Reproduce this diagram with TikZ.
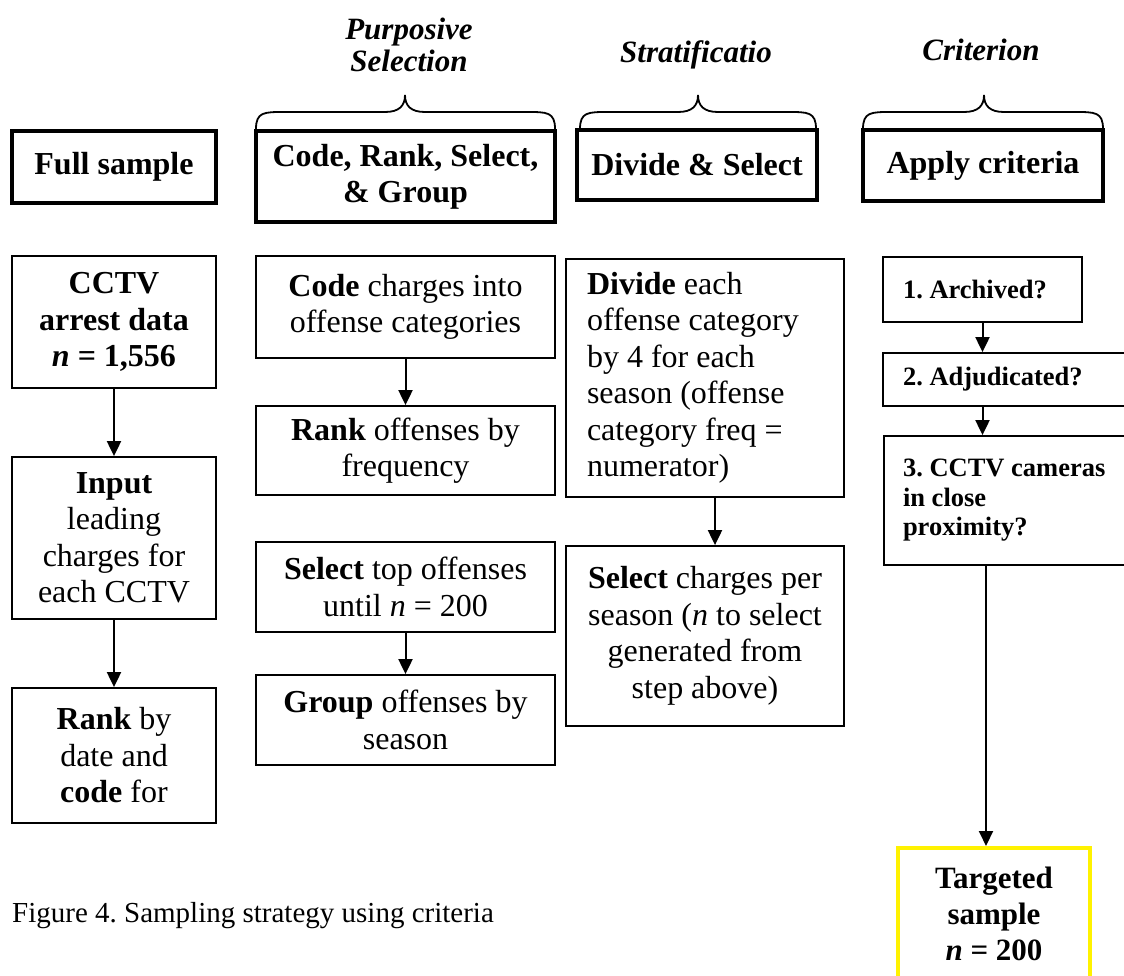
\documentclass[tikz,border=0pt]{standalone}
\usepackage{fontspec}
\setmainfont{Liberation Serif}
\usetikzlibrary{arrows.meta,calc}

\tikzset{
  headbox/.style={draw, line width=3.6pt, inner sep=0pt, align=center,
    font=\fontsize{32}{36}\selectfont\bfseries},
  stepbox/.style={draw, line width=1.8pt, inner sep=0pt, align=center,
    font=\fontsize{32}{36.5}\selectfont},
  leftbox/.style={stepbox, align=flush left},
  critbox/.style={draw, line width=1.8pt, inner sep=0pt, align=flush left,
    font=\fontsize{26.5}{29.5}\selectfont\bfseries},
  goalbox/.style={draw=yellow, line width=4pt, inner sep=0pt, align=center,
    font=\fontsize{31}{36}\selectfont\bfseries},
  phase/.style={font=\fontsize{31}{32}\selectfont\bfseries\itshape, align=center, inner sep=0pt},
  caption/.style={font=\fontsize{29}{32}\selectfont, inner sep=0pt},
  brace/.style={line width=1.8pt},
  arr/.style={line width=2pt, -{Triangle[length=15pt,width=14pt]}},
}

% curly brace over a column: left end, tip, right end, bottom y
\newcommand{\colbrace}[4]{%
  \draw[brace] (#1,#4) .. controls (#1,112) and (#1+8,112) .. (#1+28,112)
    -- (#2-20,112) .. controls (#2-6,112) and (#2,106) .. (#2,95)
    .. controls (#2,106) and (#2+6,112) .. (#2+20,112)
    -- (#3-28,112) .. controls (#3-8,112) and (#3,112) .. (#3,#4);}

\begin{document}
\frenchspacing
\begin{tikzpicture}[x=1pt,y=-1pt]
\useasboundingbox[fill=white] (0,0) rectangle (1124,976);
\clip (0,0) rectangle (1124,976);

% phase titles and braces
\node[phase] (tpurp) at (409,45) {Purposive\\Selection};
\node[phase, anchor=base] (tstrat) at (696,63) {Stratificatio};
\node[phase, anchor=base] (tcrit) at (981,61) {Criterion};
\colbrace{256}{405}{555}{129}
\colbrace{580}{698}{816}{129}
\colbrace{863}{984}{1103}{129}

% column headings
\node[headbox, minimum width=204, minimum height=72] (hfull) at (114,167) {Full sample};
\node[headbox, minimum width=299, minimum height=91] (hcode) at (405.5,176.5) {Code, Rank, Select,\\\& Group};
\node[headbox, minimum width=240, minimum height=70] (hdiv) at (697,165) {Divide \& Select};
\node[headbox, minimum width=240, minimum height=71] (happly) at (983,165.5) {Apply criteria};

% full sample column
\node[stepbox, minimum width=204, minimum height=132] (cctv) at (114,322)
  {\textbf{CCTV}\\\textbf{arrest data}\\\textbf{\textit{n} = 1,556}};
\node[stepbox, minimum width=204, minimum height=162] (input) at (114,538)
  {\textbf{Input}\\leading\\charges for\\each CCTV};
\node[stepbox, minimum width=204, minimum height=135] (rankdate) at (114,755.5)
  {\textbf{Rank} by\\date and\\\textbf{code} for};

% purposive selection column
\node[stepbox, minimum width=299, minimum height=102] (code) at (405.5,307)
  {\textbf{Code} charges into\\offense categories};
\node[stepbox, minimum width=299, minimum height=89] (rankfreq) at (405.5,450.5)
  {\textbf{Rank} offenses by\\frequency};
\node[stepbox, minimum width=299, minimum height=90] (select) at (405.5,587)
  {\textbf{Select} top offenses\\until \textit{n} = 200};
\node[stepbox, minimum width=299, minimum height=90] (group) at (405.5,720)
  {\textbf{Group} offenses by\\season};

% stratification column
\node[leftbox, minimum width=278, minimum height=238, text width=236] (divide) at (705,378)
  {\textbf{Divide} each\\offense category\\by 4 for each\\season (offense\\category freq =\\numerator)};
\node[stepbox, minimum width=278, minimum height=180] (selchg) at (705,636)
  {\textbf{Select} charges per\\season (\textit{n} to select\\generated from\\step above)};

% criterion column
\node[critbox, minimum width=199, minimum height=65, text width=159] (arch) at (982.5,289.5)
  {1. Archived?};
\node[critbox, minimum width=251, minimum height=53, text width=211] (adj) at (1008.5,379.5)
  {2. Adjudicated?};
\node[critbox, minimum width=250, minimum height=129, text width=212] (cam) at (1009,500.5)
  {3. CCTV cameras\\in close\\proximity?};
\node[goalbox, minimum width=192, minimum height=131] (target) at (994,913.5)
  {Targeted\\sample\\\textit{n} = 200};
\coordinate (critx) at (986,0);

% connectors
\draw[arr] (cctv) -- (input);
\draw[arr] (input) -- (rankdate);
\draw[arr] (code) -- (rankfreq);
\draw[arr] (select) -- (group);
\draw[arr] ([xshift=10pt]divide.south) -- ([xshift=10pt]selchg.north);
\draw[arr] (arch.south) -- (arch.south |- adj.north);
\draw[arr] (adj.south -| arch.south) -- (cam.north -| arch.south);
\draw[arr] (cam.south -| critx) -- (target.north -| critx);

% caption
\node[caption, anchor=base west] (cap) at (12,922) {Figure 4. Sampling strategy using criteria};
\end{tikzpicture}
\end{document}
